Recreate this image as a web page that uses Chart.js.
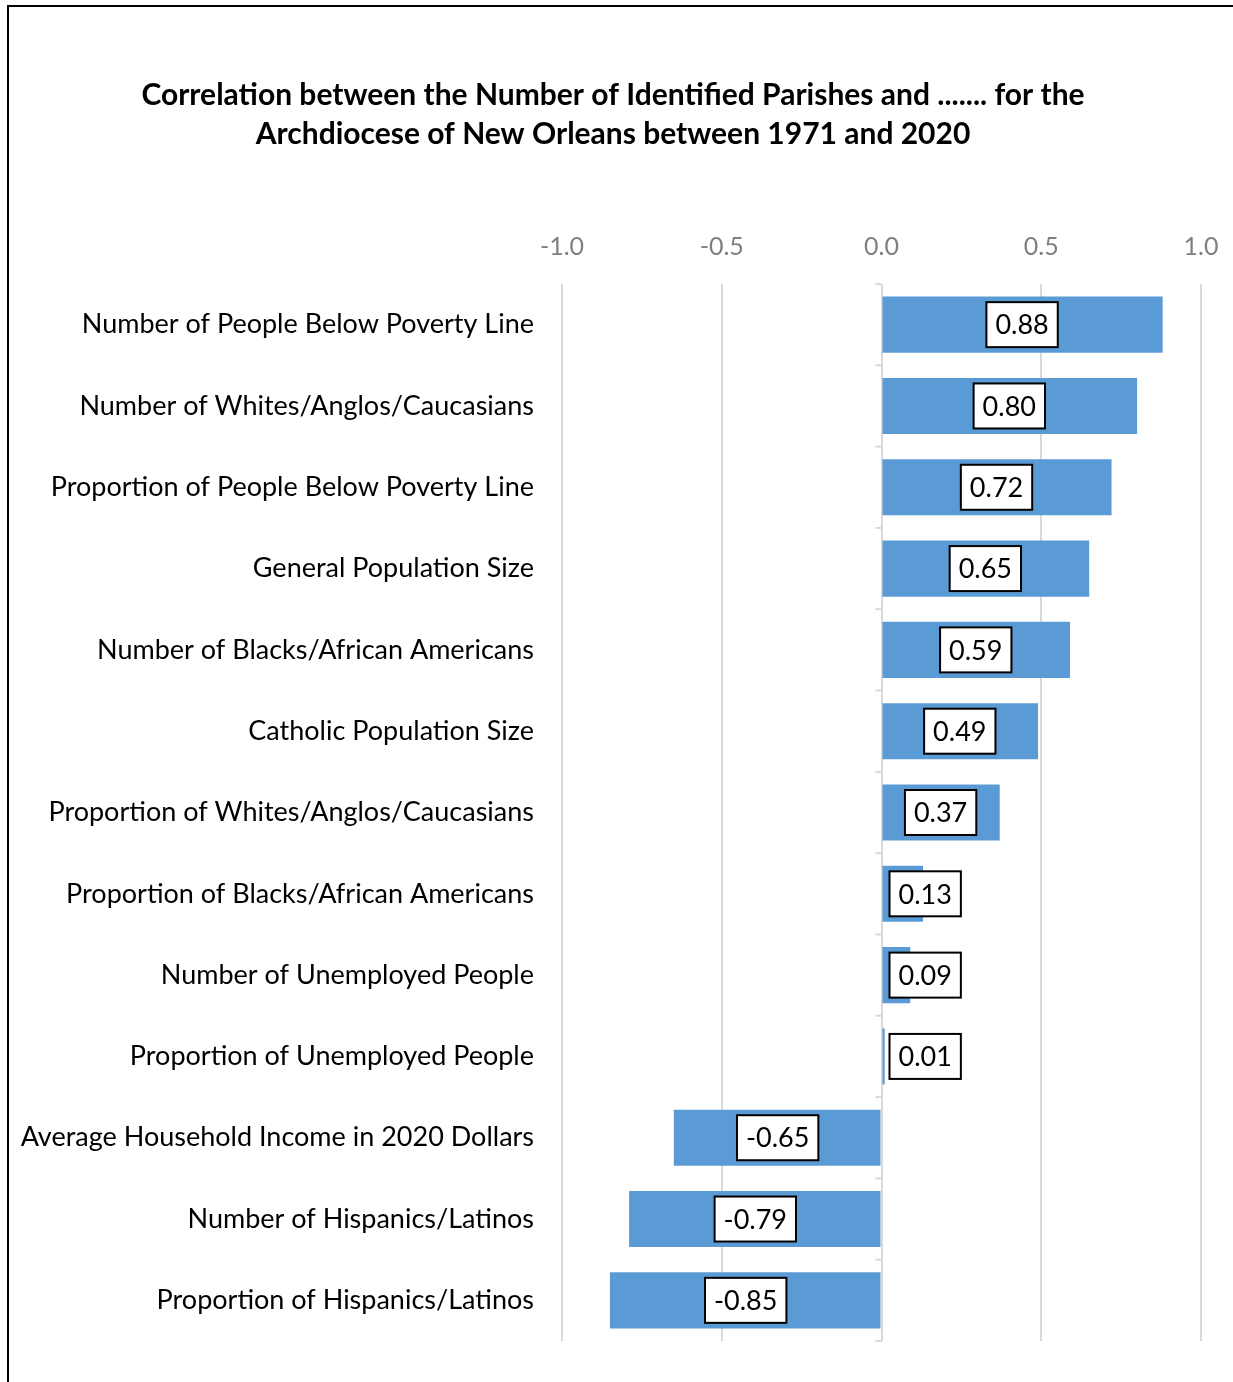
<!DOCTYPE html>
<html>
<head>
<meta charset="utf-8">
<script src="https://cdn.jsdelivr.net/npm/chart.js@4.4.1/dist/chart.umd.min.js"></script>
<style>
  html, body { margin: 0; padding: 0; background: #fff; }
  #wrap { position: relative; width: 1233px; height: 1382px; }
</style>
</head>
<body>
<div id="wrap"><canvas id="chart"></canvas></div>
<script>
const categories = [
  "Number of People Below Poverty Line",
  "Number of Whites/Anglos/Caucasians",
  "Proportion of People Below Poverty Line",
  "General Population Size",
  "Number of Blacks/African Americans",
  "Catholic Population Size",
  "Proportion of Whites/Anglos/Caucasians",
  "Proportion of Blacks/African Americans",
  "Number of Unemployed People",
  "Proportion of Unemployed People",
  "Average Household Income in 2020 Dollars",
  "Number of Hispanics/Latinos",
  "Proportion of Hispanics/Latinos"
];
const correlations = [0.88, 0.80, 0.72, 0.65, 0.59, 0.49, 0.37, 0.13, 0.09, 0.01, -0.65, -0.79, -0.85];
const xTicks = [-1.0, -0.5, 0.0, 0.5, 1.0];

const titleLines = [
  "Correlation between the Number of Identified Parishes and ....... for the",
  "Archdiocese of New Orleans between 1971 and 2020"
];

const FONT = "Lato, Carlito, Calibri, 'Open Sans', sans-serif";
const GRID = "#d9d9d9";

// outer frame of the chart object, and title nudged to the right like excel
const framePlugin = {
  id: "frame",
  afterLayout(chart) {
    const t = chart.titleBlock;
    if (t) {
      t.left = 25;
      t.right = chart.chartArea.right;
      t.width = t.right - t.left;
    }
  },
  beforeDraw(chart) {
    const ctx = chart.ctx;
    ctx.save();
    ctx.fillStyle = "#fff";
    ctx.fillRect(0, 0, chart.width, chart.height);
    ctx.strokeStyle = "#000";
    ctx.lineWidth = 2;
    ctx.strokeRect(8, 6, chart.width + 20, chart.height + 20);
    ctx.restore();
  }
};

// vertical axis line at 0 with little tick marks between categories
const zeroAxisPlugin = {
  id: "zeroAxis",
  afterDatasetsDraw(chart) {
    const ctx = chart.ctx;
    const xs = chart.scales.x;
    const ys = chart.scales.y;
    const x0 = xs.getPixelForValue(0);
    const step = ys.getPixelForValue(1) - ys.getPixelForValue(0);
    ctx.save();
    ctx.strokeStyle = GRID;
    ctx.lineWidth = 2;
    for (let i = 0; i <= categories.length; i++) {
      const y = ys.getPixelForValue(i) - step / 2;
      ctx.beginPath();
      ctx.moveTo(x0 - 6, y);
      ctx.lineTo(x0, y);
      ctx.stroke();
    }
    ctx.restore();
  }
};

// boxed value labels in the middle of each bar
const boxLabelPlugin = {
  id: "boxLabels",
  afterDatasetsDraw(chart) {
    const ctx = chart.ctx;
    const xs = chart.scales.x;
    const ys = chart.scales.y;
    const x0 = xs.getPixelForValue(0);
    ctx.save();
    ctx.font = "27px " + FONT;
    ctx.textAlign = "center";
    ctx.textBaseline = "middle";
    correlations.forEach((v, i) => {
      const txt = v.toFixed(2);
      const w = ctx.measureText(txt).width + 18;
      const h = 45;
      let cx = xs.getPixelForValue(v / 2);
      if (v >= 0 && cx - w / 2 < x0 + 8) cx = x0 + 8 + w / 2;
      if (v < 0 && cx + w / 2 > x0 - 8) cx = x0 - 8 - w / 2;
      const cy = ys.getPixelForValue(i);
      ctx.fillStyle = "#fff";
      ctx.fillRect(cx - w / 2, cy - h / 2, w, h);
      ctx.strokeStyle = "#000";
      ctx.lineWidth = 2;
      ctx.strokeRect(cx - w / 2, cy - h / 2, w, h);
      ctx.fillStyle = "#000";
      ctx.fillText(txt, cx, cy + 1);
    });
    ctx.restore();
  }
};

new Chart(document.getElementById("chart"), {
  type: "bar",
  data: {
    labels: categories,
    datasets: [{
      data: correlations,
      backgroundColor: "#5b9bd5",
      borderWidth: 0,
      categoryPercentage: 1,
      barPercentage: 0.69
    }]
  },
  options: {
    indexAxis: "y",
    responsive: true,
    maintainAspectRatio: false,
    animation: false,
    layout: { padding: { top: 0, left: 0, right: 32, bottom: 41 } },
    plugins: {
      legend: { display: false },
      tooltip: { enabled: false },
      title: {
        display: true,
        text: titleLines,
        color: "#000",
        font: { family: FONT, size: 30, weight: "bold", lineHeight: 1.3 },
        padding: { top: 76, bottom: 20 }
      }
    },
    scales: {
      x: {
        position: "top",
        min: -1,
        max: 1,
        afterBuildTicks(scale) {
          scale.ticks = xTicks.map(v => ({ value: v }));
        },
        afterFit(scale) {
          scale.height = 284 - 174;
          scale.paddingLeft = 0;
          scale.paddingRight = 0;
        },
        ticks: {
          color: "#7f7f7f",
          font: { family: FONT, size: 25 },
          padding: 22,
          callback: v => Number(v).toFixed(1)
        },
        grid: { color: GRID, lineWidth: 2, drawTicks: false },
        border: { display: false }
      },
      y: {
        afterFit(scale) { scale.width = 562; },
        ticks: {
          color: "#000",
          font: { family: FONT, size: 27 },
          padding: 20,
          autoSkip: false
        },
        grid: { display: false },
        border: { display: false }
      }
    }
  },
  plugins: [framePlugin, zeroAxisPlugin, boxLabelPlugin]
});
</script>
</body>
</html>
